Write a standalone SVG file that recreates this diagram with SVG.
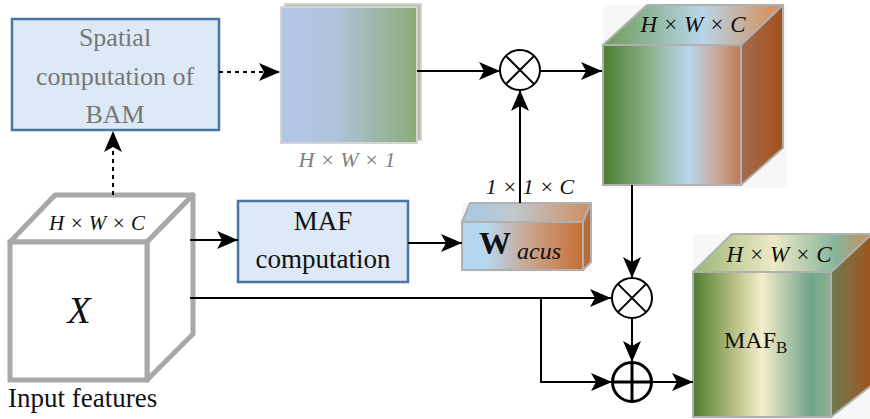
<svg xmlns="http://www.w3.org/2000/svg" width="870" height="419" viewBox="0 0 870 419">
<defs>
<marker id="ah" markerUnits="userSpaceOnUse" markerWidth="24" markerHeight="20" refX="21" refY="9" orient="auto">
<path d="M0,0 L21,9 L0,18 L5,9 z" fill="#000"/>
</marker>
<linearGradient id="gMap" x1="0" x2="1" y1="0" y2="0">
<stop offset="0" stop-color="#b4c6e8"/><stop offset="0.4" stop-color="#b0c3dc"/><stop offset="1" stop-color="#8aac78"/>
</linearGradient>
<linearGradient id="g1f" x1="0" x2="1" y1="0" y2="0">
<stop offset="0" stop-color="#4b7d32"/><stop offset="0.3" stop-color="#86ac80"/><stop offset="0.62" stop-color="#b9d7ee"/><stop offset="0.85" stop-color="#caa28e"/><stop offset="1" stop-color="#b97a55"/>
</linearGradient>
<linearGradient id="g1r" x1="0" x2="1" y1="0" y2="0">
<stop offset="0" stop-color="#a36c4c"/><stop offset="1" stop-color="#a4501c"/>
</linearGradient>
<linearGradient id="g1t" x1="0" x2="1" y1="0" y2="0">
<stop offset="0" stop-color="#6e9a55"/><stop offset="0.55" stop-color="#b7d6ea"/><stop offset="1" stop-color="#d8894e"/>
</linearGradient>
<linearGradient id="g2f" x1="0" x2="1" y1="0" y2="0">
<stop offset="0" stop-color="#4e7c30"/><stop offset="0.25" stop-color="#a5b574"/><stop offset="0.5" stop-color="#f4edc9"/><stop offset="0.85" stop-color="#72a48e"/><stop offset="1" stop-color="#8fb08f"/>
</linearGradient>
<linearGradient id="g2r" x1="0" x2="1" y1="0" y2="0">
<stop offset="0" stop-color="#6d7c52"/><stop offset="1" stop-color="#a3521c"/>
</linearGradient>
<linearGradient id="g2t" x1="0" x2="1" y1="0" y2="0">
<stop offset="0" stop-color="#98b676"/><stop offset="0.45" stop-color="#eeeac6"/><stop offset="0.8" stop-color="#86b49c"/><stop offset="1" stop-color="#d48a50"/>
</linearGradient>
<linearGradient id="gWf" x1="0" x2="1" y1="0" y2="0">
<stop offset="0" stop-color="#b3d3ee"/><stop offset="0.2" stop-color="#b8d8f0"/><stop offset="0.55" stop-color="#caa590"/><stop offset="1" stop-color="#c86e34"/>
</linearGradient>
<linearGradient id="gWt" x1="0" x2="1" y1="0" y2="0">
<stop offset="0" stop-color="#a6c8e6"/><stop offset="0.4" stop-color="#c0c8cc"/><stop offset="1" stop-color="#cf8e62"/>
</linearGradient>
</defs>
<rect width="870" height="419" fill="#fff"/>

<g id="spatial">
<rect x="12" y="19" width="207" height="111" fill="#dde9f6" stroke="#4a76a3" stroke-width="2.5"/>
<text x="115" y="46" font-size="26" font-family="Liberation Serif" fill="#777" text-anchor="middle">Spatial</text>
<text x="115" y="85" font-size="26" font-family="Liberation Serif" fill="#777" text-anchor="middle">computation of</text>
<text x="115" y="123" font-size="26" font-family="Liberation Serif" fill="#777" text-anchor="middle">BAM</text>
</g>

<g id="map">
<rect x="285" y="4" width="136" height="136" fill="#a9be9a" stroke="#d4d4d4" stroke-width="2"/>
<rect x="281" y="7" width="136" height="136" fill="url(#gMap)" stroke="#d4d4d4" stroke-width="2"/>
<text x="347" y="167" font-size="22" font-family="Liberation Serif" font-style="italic" fill="#808080" text-anchor="middle">H × W × 1</text>
</g>

<g id="mul1">
<circle cx="520" cy="70" r="20" fill="#fff" stroke="#000" stroke-width="2"/>
<path d="M505.9,55.9 L534.1,84.1 M534.1,55.9 L505.9,84.1" stroke="#000" stroke-width="2"/>
</g>

<g id="cube1">
<rect x="603" y="5" width="184" height="183" fill="#f7f7f7"/>
<polygon points="603,45 647,5 783,5 741,45" fill="url(#g1t)" stroke="#b0b0b0" stroke-width="2" stroke-linejoin="round"/>
<polygon points="741,45 783,5 783,148 741,185" fill="url(#g1r)" stroke="#b0b0b0" stroke-width="2" stroke-linejoin="round"/>
<rect x="603" y="45" width="138" height="140" fill="url(#g1f)" stroke="#b0b0b0" stroke-width="2"/>
<text x="693" y="32" font-size="23" font-family="Liberation Serif" font-style="italic" fill="#111" text-anchor="middle">H × W × C</text>
</g>

<g id="input">
<polygon points="10,242 55,195 193,195 147,242" fill="#fff" stroke="#a8a8a8" stroke-width="5" stroke-linejoin="round"/>
<polygon points="147,242 193,195 193,334 147,380" fill="#fff" stroke="#a8a8a8" stroke-width="5" stroke-linejoin="round"/>
<rect x="10" y="242" width="137" height="138" fill="#fff" stroke="#a8a8a8" stroke-width="5"/>
<text x="97" y="230" font-size="21" font-family="Liberation Serif" font-style="italic" fill="#111" text-anchor="middle">H × W × C</text>
<text x="79" y="323" font-size="38" font-family="Liberation Serif" font-style="italic" fill="#111" text-anchor="middle">X</text>
<text x="8" y="407" font-size="27" font-family="Liberation Serif" fill="#111">Input features</text>
</g>

<g id="maf">
<rect x="238" y="201" width="170" height="81" fill="#dde9f6" stroke="#4a76a3" stroke-width="2.5"/>
<text x="323" y="230" font-size="27" font-family="Liberation Serif" fill="#111" text-anchor="middle">MAF</text>
<text x="323" y="268" font-size="27" font-family="Liberation Serif" fill="#111" text-anchor="middle">computation</text>
</g>

<g id="wacus">
<rect x="462" y="203" width="130" height="69" fill="#f7f7f7"/>
<polygon points="462,222 470,203 591,203 583,222" fill="url(#gWt)" stroke="#b0b0b0" stroke-width="2" stroke-linejoin="round"/>
<polygon points="583,222 591,203 591,262 583,270" fill="#b86a38" stroke="#b0b0b0" stroke-width="2" stroke-linejoin="round"/>
<rect x="462" y="222" width="121" height="48" fill="url(#gWf)" stroke="#b0b0b0" stroke-width="2"/>
<text x="479" y="254" font-size="32" font-family="Liberation Serif" font-weight="bold" fill="#111">W</text>
<text x="517" y="259" font-size="24" font-family="Liberation Serif" font-style="italic" fill="#111">acus</text>
<text x="530" y="194" font-size="22" font-family="Liberation Serif" font-style="italic" fill="#111" text-anchor="middle">1 × 1 × C</text>
</g>

<g id="mul2">
<circle cx="632" cy="298" r="20" fill="#fff" stroke="#000" stroke-width="2"/>
<path d="M617.9,283.9 L646.1,312.1 M646.1,283.9 L617.9,312.1" stroke="#000" stroke-width="2"/>
</g>

<g id="add">
<circle cx="632" cy="382" r="19.5" fill="#fff" stroke="#000" stroke-width="3"/>
<path d="M612.5,382 L651.5,382 M632,362.5 L632,401.5" stroke="#000" stroke-width="3"/>
</g>

<g id="cube2">
<rect x="693" y="234" width="177" height="185" fill="#f7f7f7"/>
<polygon points="693,272 732,234 872,234 831,272" fill="url(#g2t)" stroke="#b0b0b0" stroke-width="2" stroke-linejoin="round"/>
<polygon points="831,272 872,234 872,385 831,417" fill="url(#g2r)" stroke="#b0b0b0" stroke-width="2" stroke-linejoin="round"/>
<rect x="693" y="272" width="138" height="145" fill="url(#g2f)" stroke="#b0b0b0" stroke-width="2"/>
<text x="779" y="262" font-size="23" font-family="Liberation Serif" font-style="italic" fill="#111" text-anchor="middle">H × W × C</text>
<text x="724" y="348" font-size="24" font-family="Liberation Serif" fill="#111">MAF<tspan font-size="17" dy="5">B</tspan></text>
</g>

<g id="connectors" fill="none" stroke="#000" stroke-width="2">
<path d="M219,72 L280,72" stroke-dasharray="4 4" marker-end="url(#ah)"/>
<path d="M113,195 L113,131" stroke-dasharray="4 4" marker-end="url(#ah)"/>
<path d="M417,71 L500,71" marker-end="url(#ah)"/>
<path d="M540,71 L602,71" marker-end="url(#ah)"/>
<path d="M520,203 L520,90" marker-end="url(#ah)"/>
<path d="M190,240 L238,240" marker-end="url(#ah)"/>
<path d="M408,243 L462,243" marker-end="url(#ah)"/>
<path d="M190,298 L611,298" marker-end="url(#ah)"/>
<path d="M541,298 L541,382 L612,382" marker-end="url(#ah)"/>
<path d="M632,185 L632,278" marker-end="url(#ah)"/>
<path d="M632,318 L632,362" marker-end="url(#ah)"/>
<path d="M652,382 L693,382" marker-end="url(#ah)"/>
</g>
</svg>
